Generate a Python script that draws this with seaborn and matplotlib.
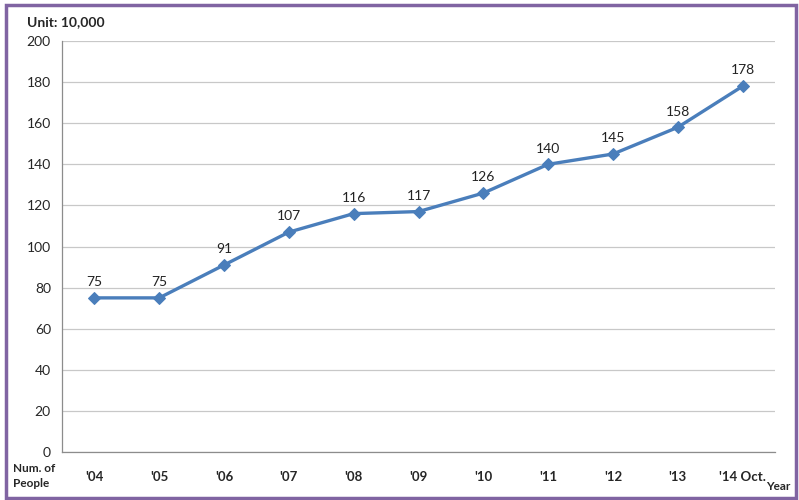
import matplotlib
matplotlib.use("Agg")
import matplotlib.pyplot as plt
import seaborn as sns
import pandas as pd
from matplotlib.patches import Rectangle
from matplotlib.ticker import FixedLocator

years = ["'04", "'05", "'06", "'07", "'08", "'09", "'10", "'11", "'12", "'13", "'14 Oct."]
people = [75, 75, 91, 107, 116, 117, 126, 140, 145, 158, 178]

df = pd.DataFrame({"year": years, "people": people})

sns.set_style("white")
plt.rcParams["font.family"] = ["Lato", "DejaVu Sans"]

fig = plt.figure(figsize=(7.99, 5), dpi=100)
ax = fig.add_axes([0.0776, 0.096, 0.8924, 0.822])

line_color = "#4a7ebb"
sns.lineplot(data=df, x="year", y="people", ax=ax, color=line_color, linewidth=2.4,
             marker="D", markersize=6, markeredgecolor=line_color, sort=False)

# value labels above each point
for i, v in enumerate(people):
    ax.annotate(str(v), (i, v), xytext=(0, 7), textcoords="offset points",
                ha="center", va="bottom", fontsize=10, color="#222222")

ax.set_xlim(-0.5, len(years) - 0.5)
ax.set_ylim(0, 200)
ax.set_yticks(range(0, 201, 20))
ax.yaxis.grid(True, color="#c8c8c8", linewidth=0.9)
ax.set_axisbelow(True)

ax.set_xticks(range(len(years)))
ax.set_xticklabels(years, fontweight="bold", fontsize=9.5)
ax.xaxis.set_minor_locator(FixedLocator([k + 0.5 for k in range(-1, len(years))]))
ax.tick_params(axis="x", which="major", length=0, pad=14)
ax.tick_params(axis="x", which="minor", length=4, color="#8c8c8c", width=0.9, direction="out")
ax.tick_params(axis="y", length=5, color="#8c8c8c", width=0.9, labelsize=10, pad=3)

for side in ["top", "right"]:
    ax.spines[side].set_visible(False)
for side in ["left", "bottom"]:
    ax.spines[side].set_color("#8c8c8c")
    ax.spines[side].set_linewidth(0.9)

ax.set_xlabel("")
ax.set_ylabel("")

fig.text(0.034, 0.955, "Unit: 10,000", fontsize=10, fontweight="bold", ha="left", va="center")
fig.text(0.016, 0.048, "Num. of\nPeople", fontsize=8.5, fontweight="bold", ha="left", va="center",
         linespacing=1.5)
fig.text(0.989, 0.026, "Year", fontsize=8.5, fontweight="bold", ha="right", va="center")

fig.patches.append(Rectangle((0.008, 0.005), 0.988, 0.985, transform=fig.transFigure,
                             fill=False, edgecolor="#8064a2", linewidth=2.5))

fig.savefig("out.png", dpi=100)
